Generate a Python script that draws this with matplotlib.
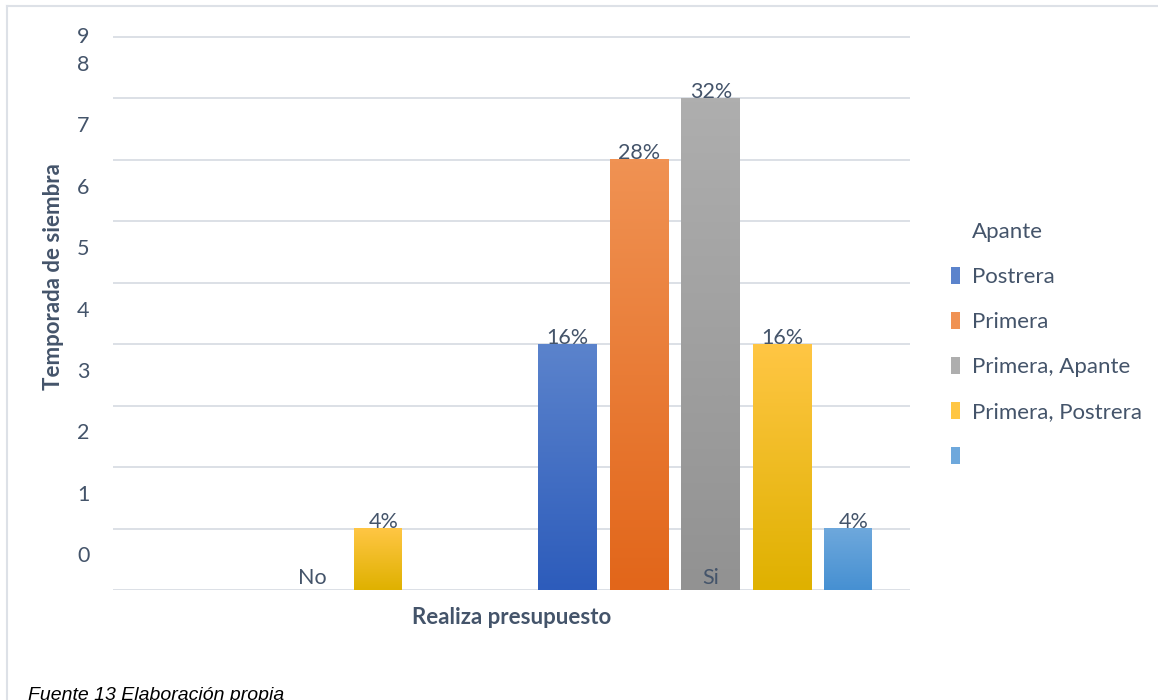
import matplotlib
matplotlib.use("Agg")
import matplotlib.pyplot as plt
import numpy as np
from matplotlib.colors import LinearSegmentedColormap
from matplotlib.patches import Rectangle
from matplotlib.lines import Line2D

plt.rcParams['font.family'] = ['Lato', 'DejaVu Sans']

categories = ['No', 'Si']
series = ['Apante', 'Postrera', 'Primera', 'Primera, Apante', 'Primera, Postrera', '']
# counts per series for No / Si
counts = {
    'Apante':            [0, 0],
    'Postrera':          [0, 4],
    'Primera':           [0, 7],
    'Primera, Apante':   [0, 8],
    'Primera, Postrera': [1, 4],
    '':                  [0, 1],
}
labels = {
    'Postrera':          [None, '16%'],
    'Primera':           [None, '28%'],
    'Primera, Apante':   [None, '32%'],
    'Primera, Postrera': ['4%', '16%'],
    '':                  [None, '4%'],
}
yticks = list(range(10))

# top / bottom colours of each bar gradient
grad = {
    'Apante':            ('#ffffff', '#ffffff'),
    'Postrera':          ('#5b83cc', '#2d5cbb'),
    'Primera':           ('#f09253', '#e2661a'),
    'Primera, Apante':   ('#aeaeae', '#929292'),
    'Primera, Postrera': ('#ffc644', '#dfb100'),
    '':                  ('#6ea8dc', '#4690d2'),
}

text_col = '#44546a'
grid_col = '#d9dde4'

fig = plt.figure(figsize=(11.58, 7), dpi=100)
ax = fig.add_axes([113 / 1158, 1 - 590 / 700, 797 / 1158, 555 / 700])

pitch = 0.1794
width = 0.148
narrow = 0.12   # the single-count bars are drawn slimmer
x = np.arange(len(categories))
for i, s in enumerate(series):
    top, bot = grad[s]
    cmap = LinearSegmentedColormap.from_list(s + '_g', [bot, top])
    for j, v in enumerate(counts[s]):
        if v <= 0:
            continue
        xc = x[j] + (i - 3) * pitch
        left = xc - width / 2
        w = narrow if v == 1 else width
        g = np.linspace(0, 1, 128).reshape(-1, 1)
        ax.imshow(g, cmap=cmap, origin='lower', aspect='auto',
                  extent=(left, left + w, 0, v), zorder=1,
                  interpolation='bilinear')
        lab = labels.get(s, [None, None])[j]
        if lab:
            ax.text(xc, v - 0.06, lab, ha='center', va='bottom',
                    fontsize=15.5, color=text_col, zorder=4)

ax.set_xlim(-0.5, 1.5)
ax.set_ylim(0, 9)

for v in yticks:
    ax.axhline(v, color=grid_col, lw=1.3, zorder=0.5)

ax.set_xticks(x)
ax.set_xticklabels(categories, fontsize=15.5, color=text_col)
ax.tick_params(axis='x', length=0, pad=-16)
ax.xaxis.set_zorder(5)
ax.set_yticks([min(v + 0.58, 9.03) for v in yticks[:-1]] + [9.03])
ax.set_yticklabels([str(v) for v in yticks], fontsize=15.5, color=text_col)
ax.tick_params(axis='y', length=0, pad=17)
for sp in ax.spines.values():
    sp.set_visible(False)

ax.set_xlabel('Realiza presupuesto', fontsize=16, fontweight='bold', color=text_col)
ax.xaxis.set_label_coords(0.5, -0.03)
ax.set_ylabel('Temporada de siembra', fontsize=16, fontweight='bold', color=text_col)
ax.yaxis.set_label_coords(-0.062, 0.564)

handles = []
for s in series:
    if s == 'Apante':
        handles.append(Rectangle((0, 0), 1, 1, fc='none', ec='none'))
    else:
        handles.append(Rectangle((0, 0), 1, 1, fc=grad[s][0], ec='none'))
leg = fig.legend(handles, series, loc='upper left', bbox_to_anchor=(942 / 1158, 1 - 213 / 700),
                 frameon=False, fontsize=16, handlelength=0.4, handleheight=0.8,
                 handletextpad=0.55, labelspacing=1.12, borderaxespad=0)
for t in leg.get_texts():
    t.set_color(text_col)

# chart frame (top and left edges)
fig.add_artist(Line2D([7 / 1158, 1], [1 - 6 / 700, 1 - 6 / 700], color='#dde1e7', lw=1.5))
fig.add_artist(Line2D([7 / 1158, 7 / 1158], [0, 1 - 6 / 700], color='#dde1e7', lw=1.5))

fig.text(28 / 1158, 1 - 687 / 700, 'Fuente 13 Elaboración propia', fontsize=14,
         style='italic', color='black', va='top', family=['Liberation Sans', 'DejaVu Sans'])

fig.savefig('out.png', dpi=100)
